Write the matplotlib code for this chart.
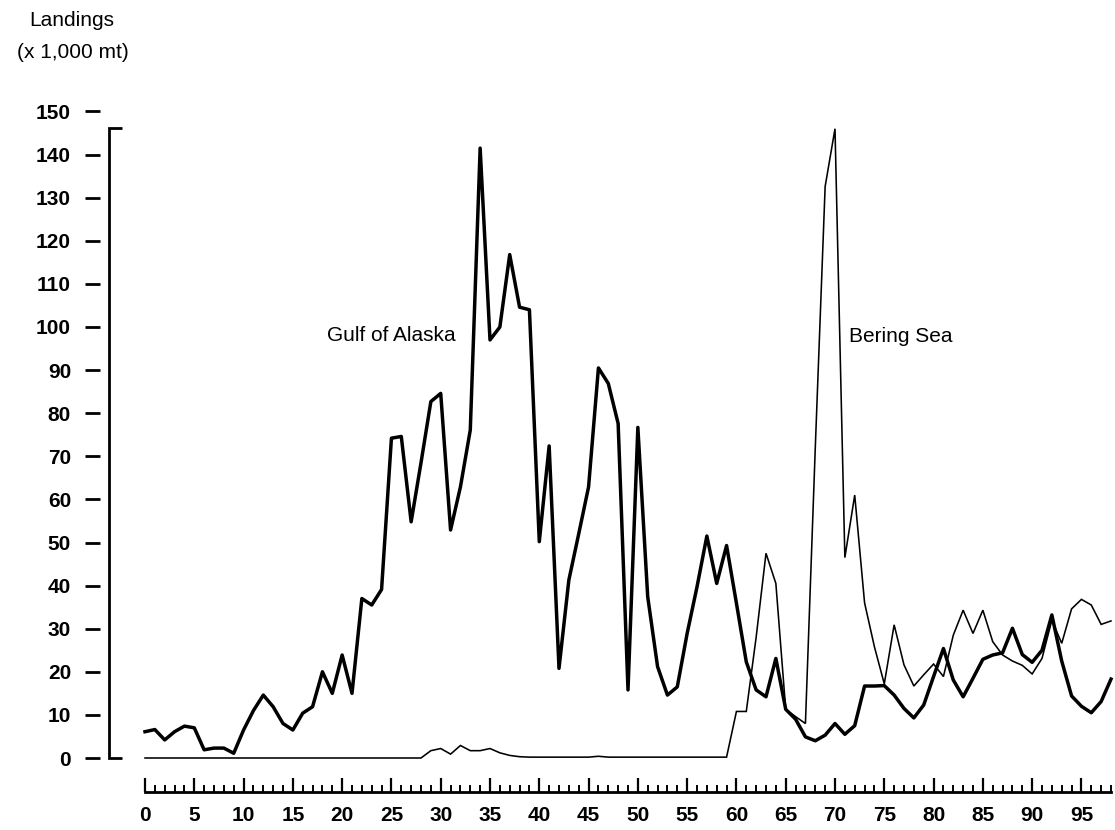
import matplotlib
matplotlib.use("Agg")
import matplotlib.pyplot as plt
from matplotlib.ticker import MultipleLocator
import numpy as np

years = list(range(0, 99))

gulf_of_alaska = [
    6.1, 6.6, 4.2, 6.1, 7.4, 7.0, 1.9, 2.3, 2.3, 1.1,
    6.5, 11.0, 14.6, 11.9, 8.0, 6.5, 10.4, 11.9, 20.0, 15.0,
    23.9, 15.0, 37.0, 35.5, 39.1, 74.2, 74.6, 54.8, 68.5, 82.7,
    84.6, 52.9, 62.9, 76.1, 141.5, 97.0, 100.0, 116.8, 104.6, 104.0,
    50.2, 72.4, 20.8, 41.3, 52.0, 62.9, 90.5, 86.9, 77.6, 15.8,
    76.7, 37.4, 21.2, 14.6, 16.5, 28.9, 39.7, 51.5, 40.5, 49.3,
    35.9, 22.3, 15.8, 14.2, 23.1, 11.3, 9.0, 4.9, 4.0, 5.3,
    8.0, 5.5, 7.5, 16.7, 16.7, 16.8, 14.6, 11.5, 9.3, 12.3,
    18.9, 25.4, 18.1, 14.2, 18.5, 22.9, 23.9, 24.4, 30.1, 24.0,
    22.2, 25.0, 33.2, 22.5, 14.4, 12.0, 10.5, 13.1, 18.3,
]

bering_sea = [
    0, 0, 0, 0, 0, 0, 0, 0, 0, 0,
    0, 0, 0, 0, 0, 0, 0, 0, 0, 0,
    0, 0, 0, 0, 0, 0, 0, 0, 0, 1.7,
    2.2, 0.9, 2.9, 1.7, 1.7, 2.2, 1.2, 0.6, 0.3, 0.2,
    0.2, 0.2, 0.2, 0.2, 0.2, 0.2, 0.4, 0.2, 0.2, 0.2,
    0.2, 0.2, 0.2, 0.2, 0.2, 0.2, 0.2, 0.2, 0.2, 0.2,
    10.8, 10.8, 28.0, 47.5, 40.5, 11.3, 9.6, 8.0, 72.0, 132.6,
    146.0, 46.5, 61.0, 36.0, 25.8, 17.2, 30.9, 21.6, 16.7, 19.3,
    21.8, 18.9, 28.5, 34.3, 28.9, 34.3, 27.0, 23.9, 22.5, 21.5,
    19.5, 23.1, 32.0, 26.6, 34.6, 36.8, 35.5, 31.0, 31.8,
]

y_ticks = list(range(0, 151, 10))
x_ticks = list(range(0, 96, 5))

FONT = "Liberation Sans"
plt.rcParams["font.family"] = [FONT, "DejaVu Sans"]

W, H = 1115, 830
fig = plt.figure(figsize=(W / 100, H / 100), dpi=100)
fig.patch.set_facecolor("white")

x0, x1 = 145, 1111
y0, y1 = 758, 111.5
ax = fig.add_axes([x0 / W, (H - y0) / H, (x1 - x0) / W, (y0 - y1) / H])
ax.set_xlim(0, 98)
ax.set_ylim(0, 150)

ax.plot(years, bering_sea, color="black", lw=1.15, clip_on=False,
        solid_joinstyle="miter", zorder=3)
ax.plot(years, gulf_of_alaska, color="black", lw=2.5, clip_on=False,
        solid_joinstyle="round", zorder=4)

for s in ["top", "right"]:
    ax.spines[s].set_visible(False)

# y axis: ticks only, spine hidden and moved outward
ax.spines["left"].set_position(("outward", 32.4))
ax.spines["left"].set_visible(False)
ax.set_yticks(y_ticks)
ax.tick_params(axis="y", direction="out", length=10.8, width=2.0,
               pad=10, labelsize=15)

# x axis ruler below the plot
ax.spines["bottom"].set_position(("outward", 24.5))
ax.spines["bottom"].set_linewidth(2.0)
ax.spines["bottom"].set_bounds(0, 98)
ax.set_xticks(x_ticks)
ax.xaxis.set_minor_locator(MultipleLocator(1))
ax.tick_params(axis="x", which="major", direction="in", length=10,
               width=1.6, pad=10, labelsize=15)
ax.tick_params(axis="x", which="minor", direction="in", length=5,
               width=1.4)

for lab in ax.get_xticklabels() + ax.get_yticklabels():
    lab.set_fontweight("bold")

# bracket line to the left of the plot
bx = (109.5 - x0) / ((x1 - x0) / 98)
bs = (122 - x0) / ((x1 - x0) / 98)
ax.plot([bs, bx, bx, bs], [146.2, 146.2, 0, 0], color="black", lw=2.0,
        clip_on=False, solid_joinstyle="miter", solid_capstyle="butt")

# series labels
ax.text((327 - x0) / ((x1 - x0) / 98), (y0 - 336) / ((y0 - y1) / 150),
        "Gulf of Alaska", fontsize=15, ha="left", va="center")
ax.text((849 - x0) / ((x1 - x0) / 98), (y0 - 337) / ((y0 - y1) / 150),
        "Bering Sea", fontsize=15, ha="left", va="center")

fig.text(72 / W, 1 - 20 / H, "Landings", fontsize=15, ha="center", va="center")
fig.text(73 / W, 1 - 52 / H, "(x 1,000 mt)", fontsize=15, ha="center", va="center")

fig.savefig("out.png", dpi=100, facecolor="white")
